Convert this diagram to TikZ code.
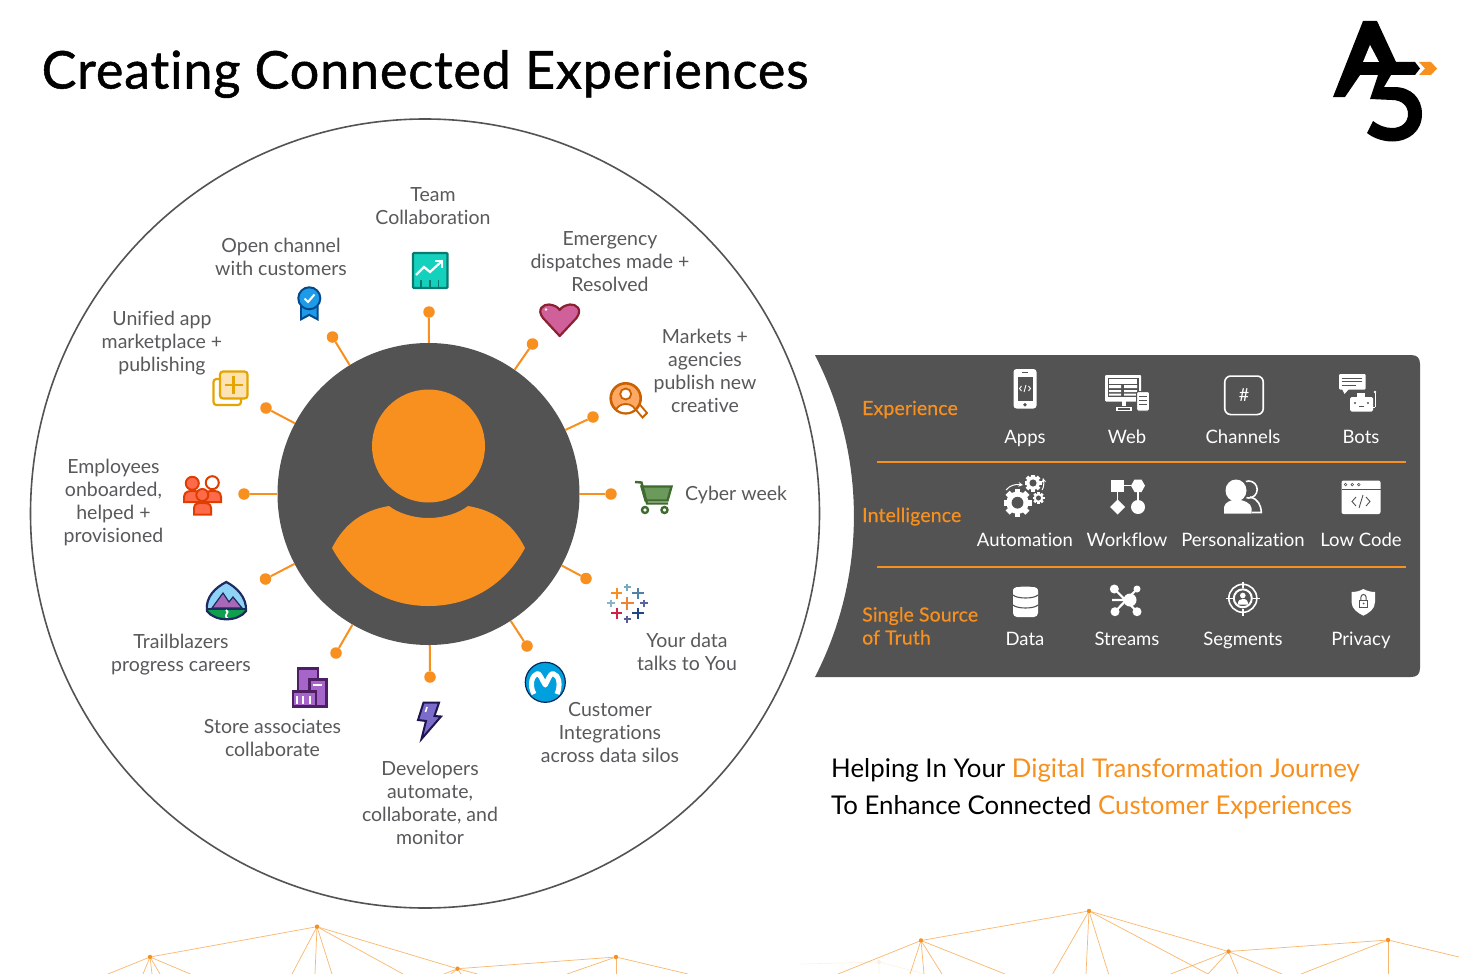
\documentclass[tikz,border=0pt]{standalone}
\usepackage{fontspec}
\setmainfont[Ligatures=NoCommon]{Lato}
\newfontfamily\titlefont[FakeBold=1.0,LetterSpace=1.7,Ligatures=NoCommon]{Lato}
\newfontfamily\spaced[LetterSpace=0.1,Ligatures=NoCommon]{Lato}
\newfontfamily\spacedb[LetterSpace=0.6,FakeBold=0.4,Ligatures=NoCommon]{Lato}
\definecolor{orng}{HTML}{F7901E}
\definecolor{dgrey}{HTML}{535353}
\definecolor{tgrey}{HTML}{58595B}
\definecolor{teald}{HTML}{0B7A6E}
\definecolor{teall}{HTML}{14D1BE}
\definecolor{ribd}{HTML}{04498C}
\definecolor{ribl}{HTML}{1E9BE8}
\definecolor{gold}{HTML}{E5A400}
\definecolor{goldl}{HTML}{FBE3B5}
\definecolor{heartd}{HTML}{8A2030}
\definecolor{heartl}{HTML}{D0609A}
\definecolor{srchd}{HTML}{C96100}
\definecolor{srchl}{HTML}{FDA964}
\definecolor{pepd}{HTML}{E03E00}
\definecolor{pepl}{HTML}{FF6B4A}
\definecolor{navyb}{HTML}{1F2A60}
\definecolor{skyb}{HTML}{8ED3F5}
\definecolor{mtn}{HTML}{A868B8}
\definecolor{grnb}{HTML}{0EA04C}
\definecolor{purd}{HTML}{4E1E63}
\definecolor{purl}{HTML}{A565C9}
\definecolor{boltd}{HTML}{1D1650}
\definecolor{boltl}{HTML}{7A6CC8}
\definecolor{mud}{HTML}{04285A}
\definecolor{mul}{HTML}{00A0DF}
\definecolor{cartd}{HTML}{3F6B2F}
\definecolor{cartl}{HTML}{6B9A5C}
\definecolor{taba}{HTML}{78AABE}
\definecolor{tabb}{HTML}{5082A5}
\definecolor{tabc}{HTML}{8CB4C8}
\definecolor{tabd}{HTML}{F08232}
\definecolor{tabe}{HTML}{5A64A0}
\definecolor{tabf}{HTML}{CD2346}
\definecolor{tabg}{HTML}{5A5A96}
\definecolor{tabh}{HTML}{1E4687}
\tikzset{
  lbl/.style={text=tgrey,align=center,inner sep=0pt,font=\spaced\fontsize{19.5}{23}\selectfont},
  itm/.style={text=white,align=center,anchor=base,inner sep=0pt,font=\spaced\fontsize{18.5}{23}\selectfont},
  sect/.style={text=orng,align=left,anchor=base west,inner sep=0pt,font=\spacedb\fontsize{19.5}{23}\selectfont},
  dotn/.style={circle,fill=orng,minimum size=11.5pt,inner sep=0pt},
  spoke/.style={draw=orng,line width=2pt},
  sep/.style={draw=orng,line width=1.8pt},
  net/.style={draw=orng,line width=0.7pt,opacity=0.65},
  netnode/.style={circle,fill=orng,minimum size=4.5pt,inner sep=0pt},
}
\newcommand{\tplus}[4]{\draw[#4,line width=1.7pt,shift={(#1,#2)}] (-#3,0)--(#3,0) (0,-#3)--(0,#3);}
\newcommand{\gearicon}[3]{%
  \begin{scope}[shift={(#1,#2)}]
    \foreach \a in {0,45,...,315}{\draw[white,line width=0.42*#3 pt] (0,0)--(\a:#3);}
    \fill[white] (0,0) circle[radius=0.8*#3];
    \fill[dgrey] (0,0) circle[radius=0.42*#3];
  \end{scope}}
\begin{document}
\begin{tikzpicture}[x=1pt,y=-1pt]
\useasboundingbox (0,0) rectangle (1459,974);
\fill[white] (0,0) rectangle (1459,974);

% title
\node[anchor=base west,inner sep=0pt,text=black,font=\titlefont\fontsize{52}{60}\selectfont] (title) at (41.5,88.5) {Creating Connected Experiences};

% logo
\fill[black] (1363,21)--(1377,21)--(1396,62)--(1415,62)--(1420,68.5)--(1415,75)--(1360,75)--(1345,97)--(1333,97)--cycle;
\fill[white] (1370,45)--(1363,62)--(1379,62)--cycle;
\fill[black] (1378,75)--(1391,75)--(1384,87)--(1394,87) .. controls (1411,87) and (1422,98) .. (1422,114)
  .. controls (1422,131) and (1409,141.5) .. (1392,141.5) .. controls (1383,141.5) and (1373,138) .. (1367,133)
  -- (1373,121) .. controls (1378,125) and (1385,128) .. (1392,128) .. controls (1402,128) and (1408,122) .. (1408,114)
  .. controls (1408,106) and (1402,100) .. (1392,100) -- (1370,99) -- cycle;
\fill[orng] (1419,62)--(1431,62)--(1437,68.5)--(1431,75)--(1419,75)--(1425,68.5)--cycle;

% large circle
\node[circle,draw=dgrey,line width=1.6pt,minimum size=789pt,inner sep=0pt] (outer) at (425,513.5) {};

% hub
\node[circle,fill=dgrey,minimum size=302pt,inner sep=0pt] (hub) at (428.5,494) {};
\node[circle,fill=orng,minimum size=113pt,inner sep=0pt] (head) at (428.5,446) {};
\fill[orng] (332,548) .. controls (345,522) and (365,510) .. (389,506)
  .. controls (398,513) and (413,518) .. (428.5,518)
  .. controls (444,518) and (459,513) .. (468,506)
  .. controls (492,510) and (512,522) .. (525,548)
  .. controls (505,585) and (470,606) .. (428.5,606)
  .. controls (387,606) and (352,585) .. (332,548) -- cycle;

% spokes
\node[dotn] (d1) at (429,312) {};
\node[dotn] (d2) at (532.5,344) {};
\node[dotn] (d3) at (593,417) {};
\node[dotn] (d4) at (611,494) {};
\node[dotn] (d5) at (586,578.5) {};
\node[dotn] (d6) at (527,646) {};
\node[dotn] (d7) at (430,677) {};
\node[dotn] (d8) at (336,653) {};
\node[dotn] (d9) at (265.5,579) {};
\node[dotn] (d10) at (244,494) {};
\node[dotn] (d11) at (266,408) {};
\node[dotn] (d12) at (332.5,337) {};
\foreach \i in {1,...,12}{\draw[spoke] (hub) -- (d\i);}

% labels
\node[lbl] (l1) at (433,205.7) {Team\\Collaboration};
\node[lbl] (l2) at (281,256.5) {Open channel\\with customers};
\node[lbl] (l3) at (610,261.2) {Emergency\\dispatches made +\\Resolved};
\node[lbl] (l4) at (162,343) {Unified app\\marketplace +\\publishing};
\node[lbl] (l5) at (705,371) {Markets +\\agencies\\publish new\\creative};
\node[lbl] (l6) at (113.5,502.5) {Employees\\onboarded,\\helped +\\provisioned};
\node[lbl,anchor=base west] (l7) at (685,500.5) {Cyber week};
\node[lbl] (l8) at (687,652) {Your data\\talks to You};
\node[lbl] (l9) at (181,655) {Trailblazers\\progress careers};
\node[lbl] (l10) at (272.5,738) {Store associates\\collaborate};
\node[lbl] (l11) at (610,732.7) {Customer\\Integrations\\across data silos};
\node[lbl] (l12) at (430,803) {Developers\\automate,\\collaborate, and\\monitor};

% chart icon
\draw[fill=teall,draw=teald,line width=2.2pt,rounded corners=1pt] (413,253) rectangle (447.5,288);
\draw[teald,line width=1.5pt] (421,280)--(421,288) (430,280)--(430,288) (438.5,280)--(438.5,288);
\draw[white,line width=2.2pt] (416,275)--(424,267)--(430,272)--(441,262);
\draw[white,line width=2.2pt] (435,261)--(442,261)--(442,268);

% ribbon icon
\fill[ribd] (300,306)--(300,321)--(309.3,316)--(318.6,321)--(318.6,306)--cycle;
\fill[ribl] (302,308)--(302,317.5)--(309.3,313.5)--(316.6,317.5)--(316.6,308)--cycle;
\draw[fill=ribl,draw=ribd,line width=2pt] (309.3,298.3) circle[radius=11];
\draw[white,line width=2pt] (304.5,298.5)--(308,302)--(314.5,294.5);

% plus squares
\draw[draw=gold,fill=white,line width=2.2pt,rounded corners=3pt] (213.5,379)rectangle(241,405);
\draw[draw=gold,fill=goldl,line width=2.2pt,rounded corners=3pt] (220,371.5)rectangle(247.5,398.5);
\draw[gold,line width=2.5pt] (224.5,385)--(242.5,385) (233.5,376)--(233.5,394);

% heart
\draw[draw=heartd,fill=heartl,line width=2.2pt,line join=round]
 (559.7,336) -- (543,318) .. controls (536,309) and (544,304) .. (549,304.5) .. controls (554,305) and (558,307) .. (559.7,310)
 .. controls (561.5,307) and (566,305) .. (570,304.5) .. controls (576,304) and (583,309) .. (576.5,318) -- cycle;
\fill[white] (546,309.5) circle[radius=1.3];

% search person
\draw[draw=srchd,fill=white,line width=1.8pt] (634,407.5)--(638.5,403)--(647,413)--(642.5,417.5)--cycle;
\draw[draw=srchd,fill=srchl,line width=2.6pt] (625.7,398.3) circle[radius=15];
\begin{scope}
\clip (625.7,398.3) circle[radius=14];
\draw[draw=srchd,fill=white,line width=1.8pt] (625.7,412) ellipse[x radius=10,y radius=8];
\end{scope}
\draw[draw=srchd,fill=white,line width=1.8pt] (625.7,394) circle[radius=5.5];

% people
\begin{scope}[draw=pepd,fill=pepl,line width=2pt]
\filldraw (184,502)--(184,497) .. controls (184,491) and (190,491) .. (192.3,491) .. controls (196,491) and (201,491) .. (201,497)--(201,502)--cycle;
\filldraw (204,502)--(204,497) .. controls (204,491) and (210,491) .. (212.3,491) .. controls (216,491) and (221,491) .. (221,497)--(221,502)--cycle;
\filldraw (192.3,483.3) circle[radius=6.5];
\filldraw[fill=white] (212.3,482.7) circle[radius=6.5];
\filldraw (194,514.5)--(194,508) .. controls (194,503) and (199,503) .. (202.3,503) .. controls (206,503) and (211,503) .. (211,508)--(211,514.5)--cycle;
\filldraw (202.3,495) circle[radius=6];
\end{scope}

% trailblazer badge
\begin{scope}
\path[clip] (226.3,582) .. controls (236,587) and (247,597) .. (246,611) .. controls (238,622) and (215,622) .. (207,611) .. controls (205,597) and (216,587) .. (226.3,582) -- cycle;
\fill[skyb] (200,575) rectangle (250,610);
\fill[grnb] (200,609) rectangle (250,625);
\draw[fill=mtn,draw=navyb,line width=1.2pt] (212,608)--(223,593)--(229,602)--(233,597)--(242,608)--cycle;
\draw[navyb,line width=2pt] (200,609)--(250,609);
\draw[white,line width=1.8pt] (226,610) .. controls (231,613) and (222,614) .. (228,619);
\end{scope}
\draw[navyb,line width=2.2pt] (226.3,582) .. controls (236,587) and (247,597) .. (246,611) .. controls (238,622) and (215,622) .. (207,611) .. controls (205,597) and (216,587) .. (226.3,582) -- cycle;

% buildings
\begin{scope}[draw=purd,fill=purl,line width=2.2pt]
\filldraw (298,668.5) rectangle (318,695);
\filldraw (309.5,679.5) rectangle (326.5,706.5);
\filldraw (292.8,691.5) rectangle (316,706.5);
\end{scope}
\draw[white,line width=1.6pt] (312.5,685)--(321.5,685);
\draw[white,line width=1.8pt] (297,696)--(297,704) (303,696)--(303,704) (310,696)--(310,704);

% bolt
\draw[draw=boltd,fill=boltl,line width=2pt,line join=miter]
 (423.5,702.7)--(439,702.7)--(434.5,716)--(441,716.5)--(421.5,739)--(426,721)--(418,720)--cycle;
\draw[white,line width=1.6pt] (427,707)--(425.5,712);

% mulesoft
\draw[draw=mud,fill=mul,line width=1.2pt] (545.3,682.3) circle[radius=20];
\draw[white,line width=5pt,line join=round] (534,694) .. controls (529,685) and (532,675) .. (537.5,673.5) .. controls (540,673.5) and (542,680) .. (545.3,685) .. controls (548,680) and (550,673.5) .. (553,673.5) .. controls (559,675) and (561,685) .. (557,694);

% tableau
\tplus{616.7}{593.3}{5.7}{orng}
\tplus{627.3}{587.3}{3.8}{taba}
\tplus{638}{593.3}{5.7}{tabb}
\tplus{610.7}{603.3}{3.8}{tabc}
\tplus{627.3}{603.3}{6.5}{tabd}
\tplus{644}{603.3}{3.8}{tabe}
\tplus{616.7}{613.3}{5.7}{tabf}
\tplus{627.3}{619.3}{3.8}{tabg}
\tplus{638}{613.3}{5.7}{tabh}

% cart
\begin{scope}[draw=cartd,line width=2.4pt]
\draw[fill=cartl] (641.5,486.5)--(671.5,486.5)--(667.5,500.5)--(645.5,500.5)--cycle;
\draw (635,482)--(641.5,482.5)--(647,503.5)--(668,503.5);
\draw[fill=white] (645,510) circle[radius=3];
\draw[fill=white] (664.5,510) circle[radius=3];
\end{scope}

% panel
\fill[dgrey] (815,355) -- (1411,355) .. controls (1417,355) and (1420,358) .. (1420,364) -- (1420,668) .. controls (1420,674) and (1417,677) .. (1411,677) -- (815,677)
  arc[start angle=27.2,end angle=-27.2,radius=352] -- cycle;
\draw[sep] (877,462) -- (1406,462);
\draw[sep] (877,567) -- (1406,567);

\node[sect] (sExp) at (862,415) {Experience};
\node[sect] (sInt) at (862,522) {Intelligence};
\node[sect] (sSin) at (862,644.5) {Single Source\\of Truth};

\foreach \nm/\xx/\yy/\tx in {a/1025/443.5/Apps,b/1127/443.5/Web,c/1243/443.5/Channels,d/1361/443.5/Bots,
  e/1025/546.5/Automation,f/1127/546.5/Workflow,g/1243/546.5/Personalization,h/1361/546.5/Low Code,
  i/1025/645.5/Data,j/1127/645.5/Streams,k/1243/645.5/Segments,m/1361/645.5/Privacy}{
  \node[itm] (it\nm) at (\xx,\yy) {\tx};
}

% apps
\fill[white,rounded corners=3pt] (1013.5,369) rectangle (1036.5,408.5);
\fill[dgrey] (1017.5,376.5) rectangle (1032.5,401);
\fill[dgrey] (1025,404.7) circle[radius=1.9];
\draw[dgrey,line width=0.8pt] (1022,372.8)--(1028,372.8);
\draw[white,line width=0.9pt] (1021.5,386)--(1019.5,388.5)--(1021.5,391) (1028.5,386)--(1030.5,388.5)--(1028.5,391) (1026,385)--(1024,392);

% web
\fill[white,rounded corners=1pt] (1105,375) rectangle (1141,401.5);
\fill[dgrey] (1107.5,377.5) rectangle (1138.5,397);
\fill[white] (1109,379) rectangle (1137,383.5);
\fill[white] (1109,385) rectangle (1121,388) (1109,390) rectangle (1121,392) (1109,393.5) rectangle (1121,395.5);
\fill[white] (1124,385) rectangle (1137,388) (1124,390) rectangle (1137,392) (1124,393.5) rectangle (1137,395.5);
\fill[white] (1122,401) rectangle (1126,406);
\fill[white] (1116,406.5) rectangle (1132,411);
\fill[dgrey] (1118,408) rectangle (1130,409.5);
\draw[fill=white,draw=dgrey,line width=1pt,rounded corners=1.5pt] (1136.5,391.5) rectangle (1149.5,411);
\draw[dgrey,line width=0.8pt] (1139,396)--(1147,396) (1139,400)--(1147,400) (1139,404)--(1147,404);

% channels
\node[draw=white,line width=1.6pt,rounded corners=6pt,minimum width=38.5pt,minimum height=38.5pt,inner sep=0pt,text=white,font=\fontsize{18}{20}\selectfont] (chan) at (1244,395.3) {\#};

% bots
\fill[white,rounded corners=1pt] (1339,374) rectangle (1365.5,389.5);
\fill[white] (1342,389)--(1349,389)--(1344.5,394)--cycle;
\draw[dgrey,line width=1pt] (1342,378)--(1362,378) (1342,381.5)--(1362,381.5) (1342,385)--(1356,385);
\fill[white] (1357,393) rectangle (1365,397);
\fill[white,rounded corners=1.5pt] (1350,397) rectangle (1373,411.5);
\draw[white,line width=1pt] (1375,393)--(1375,407) (1373,407)--(1375,407);
\fill[white] (1375,392) circle[radius=1.3];
\fill[dgrey] (1355,403) circle[radius=1.1] (1368,403) circle[radius=1.1];
\draw[dgrey,line width=0.8pt] (1359,406.5)--(1364,406.5);

% automation
\gearicon{1017.5}{502.7}{14}
\gearicon{1033}{483}{8.5}
\gearicon{1038.5}{498}{6}
\draw[white,line width=1pt,-stealth] (1006,490) .. controls (1010,485) and (1016,484) .. (1023,485);
\draw[white,line width=1pt,-stealth] (1042,490) .. controls (1044,487) and (1044,483) .. (1043,478);

% workflow
\fill[white] (1111,480) rectangle (1124,492);
\fill[white] (1145,485.7)--(1141.5,479.5)--(1134.5,479.5)--(1131,485.7)--(1134.5,492)--(1141.5,492)--cycle;
\draw[white,line width=1.2pt] (1124,485.7)--(1131,485.7) (1117.5,492)--(1117.5,500) (1138,492)--(1138,500);
\fill[white] (1117.5,499.5)--(1125,507)--(1117.5,514.5)--(1110,507)--cycle;
\fill[white] (1138,507) circle[radius=7];

% personalization
\draw[white,line width=1.6pt] (1248.7,489.5) circle[radius=8.5];
\draw[white,line width=1.6pt] (1250,497) .. controls (1258,499) and (1261,505) .. (1261.3,512.5) -- (1252,512.5);
\fill[dgrey] (1236,490) ellipse[x radius=13,y radius=13];
\fill[white] (1236,490.5) ellipse[x radius=10.5,y radius=11];
\fill[white] (1224,513.5) -- (1224,507) .. controls (1225,502) and (1231,500) .. (1236,499.5) .. controls (1244,500) and (1251,503) .. (1251.5,508) -- (1251.5,513.5) -- cycle;

% low code
\fill[white,rounded corners=2pt] (1341.5,480.5) rectangle (1380.5,514);
\draw[dgrey,line width=0.8pt] (1341.5,489)--(1380.5,489);
\draw[dgrey,line width=0.6pt] (1345.6,484.6) circle[radius=1.3] (1352.3,484.6) circle[radius=1.3] (1358.8,484.6) circle[radius=1.3];
\draw[dgrey,line width=0.9pt] (1356,497)--(1352,501.5)--(1356,506) (1366,497)--(1370,501.5)--(1366,506) (1363,495)--(1359,508);

% data
\fill[white,rounded corners=4pt] (1013,587) rectangle (1038,617);
\fill[white] (1025.5,590) ellipse[x radius=12.5,y radius=3.5];
\draw[dgrey,line width=1.1pt] (1013,595) .. controls (1017,599) and (1034,599) .. (1038,595);
\draw[dgrey,line width=1.1pt] (1013,605) .. controls (1017,609) and (1034,609) .. (1038,605);

% streams
\draw[white,line width=2.2pt] (1114.3,589)--(1137,611.7) (1137,589)--(1115,611.7) (1112,600)--(1130,600);
\fill[white] (1130,600) circle[radius=6.5] (1114.3,589) circle[radius=4.5] (1137,589) circle[radius=3.5] (1115,611.7) circle[radius=4.5] (1137,611.7) circle[radius=4.5];

% segments
\draw[white,line width=1.6pt] (1242.8,598.3) circle[radius=14];
\draw[white,line width=2pt] (1242.8,598.3) circle[radius=9];
\draw[white,line width=1.4pt] (1242.8,581.5)--(1242.8,588) (1242.8,609)--(1242.8,615.5) (1226,598.3)--(1232.5,598.3) (1253,598.3)--(1259.5,598.3);
\fill[white] (1242.8,595.5) circle[radius=2.8];
\fill[white] (1237.8,604.5) .. controls (1238,600) and (1240,599) .. (1242.8,599) .. controls (1246,599) and (1248,600) .. (1248,604.5) -- cycle;

% privacy
\fill[white] (1351.5,592) .. controls (1356,592) and (1360,591) .. (1363.4,589) .. controls (1367,591) and (1371,592) .. (1375,592) -- (1375,602) .. controls (1375,609) and (1369,613) .. (1363.4,615.7) .. controls (1358,613) and (1351.5,609) .. (1351.5,602) -- cycle;
\draw[dgrey,line width=1pt] (1359.5,600) -- (1367.5,600) -- (1367.5,607) -- (1359.5,607) -- cycle;
\draw[dgrey,line width=1pt] (1360.8,600) -- (1360.8,597.5) .. controls (1360.8,593.5) and (1366.2,593.5) .. (1366.2,597.5) -- (1366.2,600);
\fill[dgrey] (1363.5,603.5) circle[radius=1];

% tagline
\node[anchor=base west,inner sep=0pt,font=\spaced\fontsize{25.8}{30}\selectfont] (t1) at (831,777.5) {Helping In Your \textcolor{orng}{Digital Transformation Journey}};
\node[anchor=base west,inner sep=0pt,font=\spaced\fontsize{25.8}{30}\selectfont] (t2) at (831,814.5) {To Enhance Connected \textcolor{orng}{Customer Experiences}};

% network (left)
\node[netnode] (A) at (150,957) {};
\node[netnode] (B) at (317,926.7) {};
\node[netnode] (C) at (457.5,968.7) {};
\node[netnode] (D) at (616,957) {};
\draw[net] (A)--(B) (B)--(C) (C)--(D);
\foreach \p in {108,143,152,160,190.5}{\coordinate (tmp) at (\p,974); \draw[net] (A)--(tmp);}
\foreach \p in {292,315,332,403}{\coordinate (tmp) at (\p,974); \draw[net] (B)--(tmp);}
\foreach \p in {444,451,461,477.5}{\coordinate (tmp) at (\p,974); \draw[net] (C)--(tmp);}
\foreach \p in {567,616,688}{\coordinate (tmp) at (\p,974); \draw[net] (D)--(tmp);}

% network (right)
\node[netnode] (E) at (921,940.5) {};
\node[netnode] (F) at (1089,911) {};
\node[netnode] (G) at (1228.5,951.5) {};
\node[netnode] (H) at (1388,940) {};
\draw[net] (E)--(F) (F)--(G) (G)--(H);
\foreach \p in {838,910,924,942,1005}{\coordinate (tmp) at (\p,974); \draw[net] (E)--(tmp);}
\foreach \p in {1052.6,1086,1108.6,1208}{\coordinate (tmp) at (\p,974); \draw[net] (F)--(tmp);}
\foreach \p in {1170.5,1208,1238,1282}{\coordinate (tmp) at (\p,974); \draw[net] (G)--(tmp);}
\foreach \p in {1301,1388}{\coordinate (tmp) at (\p,974); \draw[net] (H)--(tmp);}
\coordinate (hr) at (1459,957); \draw[net] (H)--(hr);
\node[circle,fill=orng,opacity=0.15,minimum size=4pt,inner sep=0pt] (fn) at (879,962) {};
\coordinate (f1) at (800,964); \coordinate (f2) at (879,974); \coordinate (f3) at (925,974);
\draw[orng,line width=0.6pt,opacity=0.12] (fn)--(f1) (fn)--(f2) (fn)--(f3);
\end{tikzpicture}
\end{document}
